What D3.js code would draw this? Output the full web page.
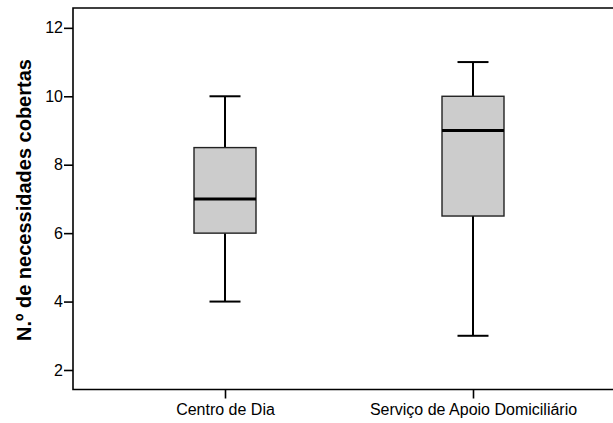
<!DOCTYPE html>
<html>
<head>
<meta charset="utf-8">
<script src="https://cdn.jsdelivr.net/npm/d3@7.9.0/dist/d3.min.js"></script>
<style>
  body { margin: 0; background: #fff; overflow: hidden; }
  svg { display: block; }
  svg text { font-family: "Liberation Sans", Arial, sans-serif; }
</style>
</head>
<body>
<div id="chart"></div>
<script>
const categories = ["Centro de Dia", "Serviço de Apoio Domiciliário"];
const whiskerLow = [4, 3];
const q1 = [6, 6.5];
const median = [7, 9];
const q3 = [8.5, 10];
const whiskerHigh = [10, 11];
const yTicks = [2, 4, 6, 8, 10, 12];
const yTitle = "N.º de necessidades cobertas";

const width = 613;
const height = 423;
const plot = { left: 73, top: 8, right: 613, bottom: 389.5 };

const svg = d3.select("#chart")
  .append("svg")
  .attr("width", width)
  .attr("height", height);

const yScale = d3.scaleLinear()
  .domain([1.43, 12.58])
  .range([plot.bottom, plot.top]);

const xScale = d3.scalePoint()
  .domain(categories)
  .range([225, 473]);

const boxes = categories.map((c, i) => ({
  cat: c,
  lo: whiskerLow[i],
  q1: q1[i],
  med: median[i],
  q3: q3[i],
  hi: whiskerHigh[i],
}));

// frame (open on the right, it runs off the picture)
svg.append("path")
  .attr("d", `M${plot.right},${plot.top}H${plot.left}V${plot.bottom}H${plot.right}`)
  .attr("fill", "none")
  .attr("stroke", "#000")
  .attr("stroke-width", 1.6);

// y axis
const yAxis = svg.append("g")
  .attr("transform", `translate(${plot.left},0)`)
  .call(d3.axisLeft(yScale).tickValues(yTicks).tickSize(9).tickPadding(1));
yAxis.attr("font-family", null).attr("font-size", null);
yAxis.select(".domain").remove();
yAxis.selectAll(".tick line").attr("stroke", "#000").attr("stroke-width", 1.6);
yAxis.selectAll(".tick text")
  .attr("fill", "#000")
  .style("font-size", "16px");

// x axis
const xAxis = svg.append("g")
  .attr("transform", `translate(0,${plot.bottom})`)
  .call(d3.axisBottom(xScale).tickSize(9).tickPadding(5));
xAxis.attr("font-family", null).attr("font-size", null);
xAxis.select(".domain").remove();
xAxis.selectAll(".tick line").attr("stroke", "#000").attr("stroke-width", 1.6);
xAxis.selectAll(".tick text")
  .attr("fill", "#000")
  .style("font-size", "16px");

// y title
svg.append("text")
  .attr("transform", "translate(31,200) rotate(-90)")
  .attr("text-anchor", "middle")
  .style("font-size", "20px")
  .style("font-weight", "bold")
  .text(yTitle);

const boxW = 62;
const capW = 31;

const g = svg.append("g").selectAll("g")
  .data(boxes)
  .join("g")
  .attr("transform", (d) => `translate(${xScale(d.cat)},0)`);

// whiskers
g.append("line")
  .attr("x1", 0).attr("x2", 0)
  .attr("y1", (d) => yScale(d.hi)).attr("y2", (d) => yScale(d.q3))
  .attr("stroke", "#000").attr("stroke-width", 2);
g.append("line")
  .attr("x1", 0).attr("x2", 0)
  .attr("y1", (d) => yScale(d.q1)).attr("y2", (d) => yScale(d.lo))
  .attr("stroke", "#000").attr("stroke-width", 2);
g.append("line")
  .attr("x1", -capW / 2).attr("x2", capW / 2)
  .attr("y1", (d) => yScale(d.hi)).attr("y2", (d) => yScale(d.hi))
  .attr("stroke", "#000").attr("stroke-width", 2);
g.append("line")
  .attr("x1", -capW / 2).attr("x2", capW / 2)
  .attr("y1", (d) => yScale(d.lo)).attr("y2", (d) => yScale(d.lo))
  .attr("stroke", "#000").attr("stroke-width", 2);

// box
g.append("rect")
  .attr("x", -boxW / 2)
  .attr("width", boxW)
  .attr("y", (d) => yScale(d.q3))
  .attr("height", (d) => yScale(d.q1) - yScale(d.q3))
  .attr("fill", "#cccccc")
  .attr("stroke", "#222")
  .attr("stroke-width", 1.4);

// median
g.append("line")
  .attr("x1", -boxW / 2).attr("x2", boxW / 2)
  .attr("y1", (d) => yScale(d.med)).attr("y2", (d) => yScale(d.med))
  .attr("stroke", "#000").attr("stroke-width", 3);
</script>
</body>
</html>
